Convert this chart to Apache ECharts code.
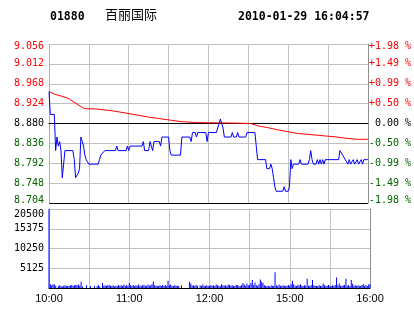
<!DOCTYPE html>
<html><head><meta charset="utf-8">
<script src="https://cdn.jsdelivr.net/npm/echarts@6/dist/echarts.min.js"></script>
<style>html,body{margin:0;padding:0;background:#fff}#c{width:414px;height:314px}</style>
</head><body><div id="c"></div>
<script>
// ---- header text ----
const stockCode = '01880';
const stockName = '百丽国际';
const timestamp = '2010-01-29 16:04:57';
const prevClose = 8.880;

// ---- tick labels (bottom to top) ----
const priceTickLabels = ['8.704','8.748','8.792','8.836','8.880','8.924','8.968','9.012','9.056'];
const pctTickLabels = ['-1.98 %','-1.49 %','-0.99 %','-0.50 %',' 0.00 %','+0.50 %','+0.99 %','+1.49 %','+1.98 %'];
const volTickLabels = ['', '5125', '10250', '15375', '20500'];
const timeTickMinutes = [0, 60, 120, 180, 240];
const timeTickLabels = ['10:00', '11:00', '12:00', '15:00', '16:00'];

// ---- price line (minute of session, price) ----
const priceMinutes = [0,1,4,5,6,7,8,9,10,11,12,18,19,20,21,22,23,24,25,26,27,28,30,37,38,39,42,50,51,52,58,59,60,61,70,71,72,75,76,77,78,79,83,84,85,90,91,92,99,100,106,107,108,110,111,112,118,119,120,126,127,128,129,130,131,132,137,138,139,141,142,143,148,149,155,156,157,163,164,166,167,168,169,170,171,176,177,178,180,181,182,183,184,188,189,190,195,196,197,198,199,201,202,203,204,205,206,207,208,218,219,220,221,223,225,226,227,229,230,232,233,235,236,237,240];
const prices = [8.95,8.90,8.90,8.82,8.85,8.83,8.84,8.82,8.76,8.79,8.82,8.82,8.80,8.76,8.76,8.77,8.78,8.85,8.85,8.83,8.81,8.80,8.79,8.79,8.80,8.81,8.82,8.82,8.83,8.82,8.82,8.83,8.82,8.83,8.83,8.84,8.82,8.82,8.84,8.83,8.82,8.84,8.84,8.83,8.85,8.85,8.82,8.81,8.81,8.85,8.85,8.84,8.86,8.86,8.85,8.86,8.86,8.84,8.86,8.86,8.87,8.88,8.89,8.88,8.87,8.85,8.85,8.86,8.85,8.85,8.86,8.85,8.85,8.86,8.86,8.83,8.80,8.80,8.78,8.78,8.79,8.78,8.76,8.74,8.73,8.73,8.74,8.73,8.73,8.74,8.80,8.78,8.79,8.79,8.80,8.79,8.79,8.80,8.82,8.80,8.79,8.79,8.80,8.79,8.80,8.79,8.80,8.79,8.80,8.80,8.82,8.82,8.81,8.80,8.79,8.80,8.79,8.80,8.79,8.80,8.79,8.80,8.79,8.80,8.80];

// ---- average price line ----
const avgMinutes = [0,4,9,15,20,26.5,36,48,58,67.5,77.5,82.5,92.4,100,112,137,152,157,164.5,172,179.5,187,202,217,224.5,232,240];
const avgPrices = [8.951,8.945,8.941,8.935,8.925,8.913,8.912,8.908,8.903,8.898,8.893,8.891,8.887,8.884,8.882,8.881,8.880,8.875,8.871,8.866,8.862,8.858,8.854,8.850,8.847,8.845,8.845];

// ---- volume per minute (minute 0..240) ----
const volumes = [20500,
1000,700,1000,900,600,0,500,700,500,400,
600,700,500,600,500,700,800,600,700,800,
700,900,600,1600,400,0,0,700,0,0,
500,0,0,600,0,500,700,400,0,1300,
600,700,500,800,700,600,500,700,400,600,
500,800,600,700,500,900,600,700,600,1300,
700,600,800,500,700,600,900,600,500,700,
800,600,500,900,600,700,1000,1700,700,600,
500,600,700,500,800,600,700,500,1900,700,
900,600,500,700,600,600,500,0,700,0,
0,0,0,0,1600,1200,600,700,500,800,
600,0,700,500,900,600,500,700,600,500,
800,600,700,500,900,700,600,500,1000,700,
600,700,500,900,800,600,700,500,600,800,
700,600,500,800,1300,900,600,1100,700,800,
1300,2100,800,1400,700,600,1000,2200,1600,1300,
700,600,500,600,400,700,600,500,4100,700,
500,900,600,500,700,600,500,600,800,600,
1000,1900,1000,600,500,800,700,1000,600,500,
700,600,2400,600,500,800,2100,700,600,500,
600,700,500,600,1200,700,500,600,800,600,
500,700,600,800,2700,700,1200,600,500,700,
800,2400,600,700,500,2100,1100,600,700,500,
700,600,500,800,1000,600,700,500,900,1000];

// axis in thousandths of HKD relative to previous close
const toDelta = p => Math.round((p - prevClose) * 10000) / 10;
const step = 44, half = 176;
const idxOf = v => Math.round((Number(v) + half) / step);
const colorOf = v => { const n = Number(v); return n > 0.01 ? '#ff0000' : (n < -0.01 ? '#006400' : '#000000'); };
// first/last labels nudged inside the plot like the original
const edgeWrap = (labels) => v => {
  const i = idxOf(v); const s = labels[i] || '';
  if (i === labels.length - 1) return '{top|' + s + '}';
  if (i === 0) return '{bot|' + s + '}';
  return s;
};
const edgeRich = {top: {padding: [5, 0, 0, 0]}, bot: {padding: [0, 0, 6, 0]}};

const grid = '#c0c0c0';
const monoFont = 'DejaVu Sans Mono';
const chart = echarts.init(document.getElementById('c'), null, {renderer: 'canvas'});
const priceSplitColors = priceTickLabels.map((_, i) => (i === 4 || i === 0) ? '#000000' : grid);

chart.setOption({
  animation: false,
  backgroundColor: '#ffffff',
  graphic: [
    {type: 'text', left: 50, top: 11, style: {text: stockCode, font: 'bold 11.5px "DejaVu Sans Mono"', fill: '#000'}},
    {type: 'text', left: 105, top: 8, style: {text: stockName, font: '13px "Noto Sans CJK SC"', fill: '#000'}},
    {type: 'text', left: 238, top: 11, style: {text: timestamp, font: 'bold 11.5px "DejaVu Sans Mono"', fill: '#000'}}
  ],
  grid: [
    {left: 49, right: 44, top: 44, height: 159},
    {left: 49, right: 44, top: 209, height: 79}
  ],
  xAxis: [
    {type: 'value', gridIndex: 0, min: 0, max: 240, interval: 30,
     axisLine: {show: true, lineStyle: {color: '#000', width: 1}}, axisTick: {show: false}, axisLabel: {show: false},
     splitLine: {show: true, lineStyle: {color: grid, width: 1}}},
    {type: 'value', gridIndex: 1, min: 0, max: 240, interval: 30,
     axisLine: {show: true, lineStyle: {color: '#000', width: 1}}, axisTick: {show: false},
     axisLabel: {show: true, margin: 5, fontSize: 11, fontFamily: 'Liberation Sans', color: '#000',
       formatter: v => { const i = timeTickMinutes.indexOf(Number(v)); return i >= 0 ? timeTickLabels[i] : ''; }},
     splitLine: {show: true, lineStyle: {color: grid, width: 1}}}
  ],
  yAxis: [
    {type: 'value', gridIndex: 0, min: -half, max: half, interval: step,
     axisLine: {show: true, lineStyle: {color: '#b0b0b0'}}, axisTick: {show: false},
     axisLabel: {margin: 5, fontSize: 10, fontFamily: monoFont,
       formatter: edgeWrap(priceTickLabels), rich: edgeRich, color: v => colorOf(v)},
     splitLine: {show: true, lineStyle: {color: priceSplitColors, width: 1}}},
    {type: 'value', gridIndex: 0, position: 'right', min: -half, max: half, interval: step,
     axisLine: {show: true, lineStyle: {color: '#909090'}}, axisTick: {show: false},
     axisLabel: {margin: 1, fontSize: 10, fontFamily: monoFont,
       formatter: edgeWrap(pctTickLabels), rich: edgeRich, color: v => colorOf(v)},
     splitLine: {show: false}},
    {type: 'value', gridIndex: 1, min: 0, max: 20500, interval: 5125,
     axisLine: {show: true, lineStyle: {color: '#b0b0b0'}}, axisTick: {show: false},
     axisLabel: {margin: 5, fontSize: 10, fontFamily: monoFont, color: '#000',
       formatter: v => { const i = Math.round(Number(v) / 5125); const s = volTickLabels[i] || '';
         return i === volTickLabels.length - 1 ? '{top|' + s + '}' : s; },
       rich: {top: {padding: [10, 0, 0, 0]}}},
     splitLine: {show: true, lineStyle: {color: grid, width: 1}}},
    {type: 'value', gridIndex: 1, position: 'right', min: 0, max: 20500, interval: 5125,
     axisLine: {show: true, lineStyle: {color: '#909090'}}, axisTick: {show: false}, axisLabel: {show: false},
     splitLine: {show: false}}
  ],
  series: [
    {type: 'line', xAxisIndex: 0, yAxisIndex: 0, showSymbol: false, symbol: 'none',
     lineStyle: {color: '#ff0000', width: 1}, z: 3,
     data: avgMinutes.map((t, i) => [t, toDelta(avgPrices[i])])},
    {type: 'line', xAxisIndex: 0, yAxisIndex: 0, showSymbol: false, symbol: 'none',
     lineStyle: {color: '#0000ff', width: 1}, z: 4,
     data: priceMinutes.map((t, i) => [t, toDelta(prices[i])])},
    {type: 'bar', xAxisIndex: 1, yAxisIndex: 2, barWidth: 1, itemStyle: {color: '#0000ff'},
     data: volumes.map((v, t) => [t, v])}
  ]
});
</script>
</body></html>
